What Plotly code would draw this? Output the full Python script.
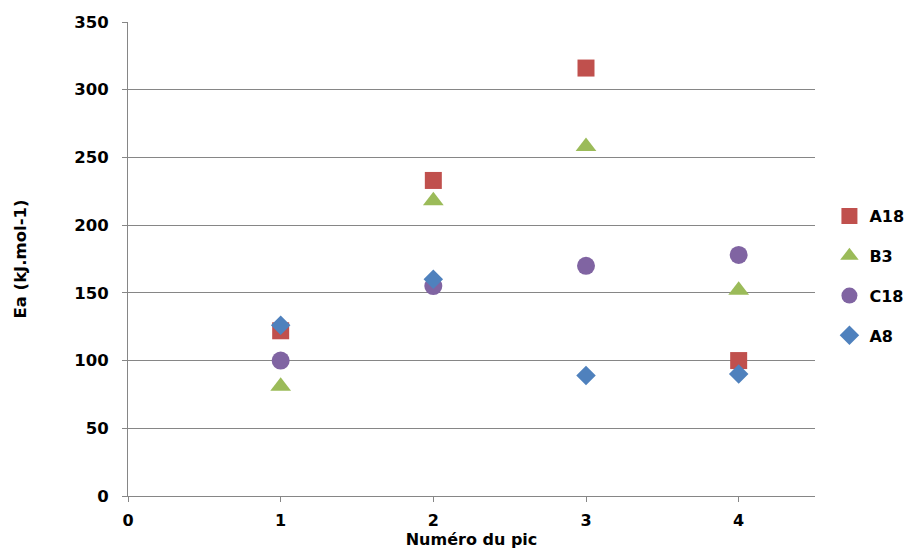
import plotly.graph_objects as go

pics = [1, 2, 3, 4]
a18 = [122, 233, 316, 100]
b3 = [81, 218, 258, 152]
c18 = [100, 155, 170, 178]
a8 = [126, 160, 89, 90]

series = [
    ("A18", a18, "square", "#C0504D", 17),
    ("B3", b3, "triangle-up", "#9BBB59", 18),
    ("C18", c18, "circle", "#8064A2", 18),
    ("A8", a8, "diamond", "#4F81BD", 15),
]

fig = go.Figure()
for name, vals, sym, col, sz in series:
    fig.add_trace(go.Scatter(
        x=pics, y=vals, mode="markers", name=name, legendgroup=name,
        marker=dict(symbol=sym, color=col, size=sz, line=dict(width=0)),
    ))

ff = "'DejaVu Sans', sans-serif"
fs = 16.5
fig.update_layout(
    width=899, height=541,
    margin=dict(l=120, r=92, t=14, b=53, autoexpand=False),
    plot_bgcolor="white", paper_bgcolor="white",
    font=dict(family=ff, size=fs, color="#000000", weight="bold"),
    showlegend=True,
    legend=dict(x=1.021, y=0.464, xanchor="left", yanchor="middle",
                font=dict(size=16, family=ff, weight="bold"),
                tracegroupgap=16),
    xaxis=dict(range=[0, 4.5], tickvals=[0, 1, 2, 3, 4], showgrid=False,
               zeroline=False, showline=True, linecolor="#868686", linewidth=1,
               ticks="outside", ticklen=5, tickcolor="#868686",
               ticklabelstandoff=5,
               tickfont=dict(size=16, family=ff, weight="bold"),
               title=dict(text="Numéro du pic", standoff=10,
                          font=dict(size=16, family=ff, weight="bold"))),
    yaxis=dict(range=[0, 350], tickvals=[0, 50, 100, 150, 200, 250, 300, 350],
               showgrid=True, gridcolor="#868686", gridwidth=1,
               zeroline=False, showline=True, linecolor="#868686", linewidth=1,
               ticks="outside", ticklen=5, tickcolor="#868686",
               ticklabelstandoff=10,
               tickfont=dict(size=fs, family=ff, weight="bold"),
               title=dict(text="Ea (kJ.mol-1)", standoff=43,
                          font=dict(size=fs, family=ff, weight="bold"))),
)

fig.write_html("out.html")
